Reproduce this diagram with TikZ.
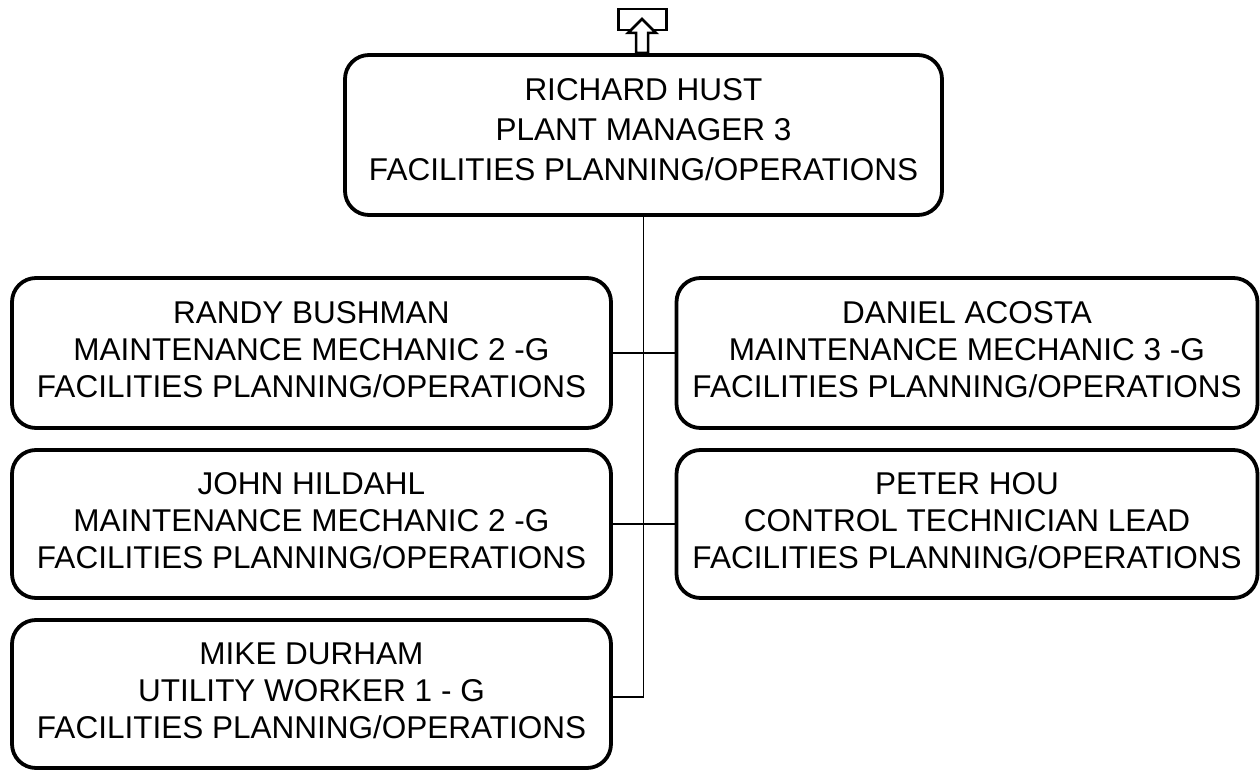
\documentclass[tikz,border=0pt]{standalone}
\usepackage{fontspec}
\setmainfont{Liberation Sans}
\usepackage{tikz}
\usetikzlibrary{positioning,calc}

\begin{document}
\begin{tikzpicture}[
  x=1pt, y={(0pt,-1pt)},
  person/.style={draw, line width=3.8pt, rounded corners=24pt, fill=white,
                 minimum width=599pt, minimum height=150pt, inner sep=0pt,
                 align=center, text depth=7pt, font=\fontsize{31.5}{37}\selectfont},
  link/.style={line width=1.8pt},
  tab/.style={draw, line width=2.8pt, minimum width=48pt, minimum height=21pt, inner sep=0pt},
]
\useasboundingbox (0,0) rectangle (1260,770);

% manager
\node[person, minimum width=597pt, minimum height=160pt, text depth=11pt,
      font=\fontsize{31.5}{40}\selectfont] (hust) at (643.5,135)
  {RICHARD HUST\\PLANT MANAGER 3\\FACILITIES PLANNING/OPERATIONS};

% up-link icon
\node[tab] (uplink) at (642.5,19.5) {};
\draw[line width=2.5pt, fill=white, line join=miter]
  (642,19) -- (656,33) -- (648,33) -- (648,53) -- (636,53) -- (636,33) -- (628,33) -- cycle;

% left column
\node[person] (bushman) at (311.5,353)
  {RANDY BUSHMAN\\MAINTENANCE MECHANIC 2 -G\\FACILITIES PLANNING/OPERATIONS};
\node[person, minimum height=148pt] (hildahl) at (311.5,524)
  {JOHN HILDAHL\\MAINTENANCE MECHANIC 2 -G\\FACILITIES PLANNING/OPERATIONS};
\node[person, minimum height=148pt] (durham) at (311.5,694)
  {MIKE DURHAM\\UTILITY WORKER 1 - G\\FACILITIES PLANNING/OPERATIONS};

% right column
\node[person, minimum width=581pt] (acosta) at (967,353)
  {DANIEL ACOSTA\\MAINTENANCE MECHANIC 3 -G\\FACILITIES PLANNING/OPERATIONS};
\node[person, minimum width=581pt, minimum height=148pt] (hou) at (967,524)
  {PETER HOU\\CONTROL TECHNICIAN LEAD\\FACILITIES PLANNING/OPERATIONS};

% connectors
\draw[link] (hust.south) |- ($(durham.east)+(0,3)$);
\draw[link] (bushman.east) -- (acosta.west);
\draw[link] (hildahl.east) -- (hou.west);
\end{tikzpicture}
\end{document}
